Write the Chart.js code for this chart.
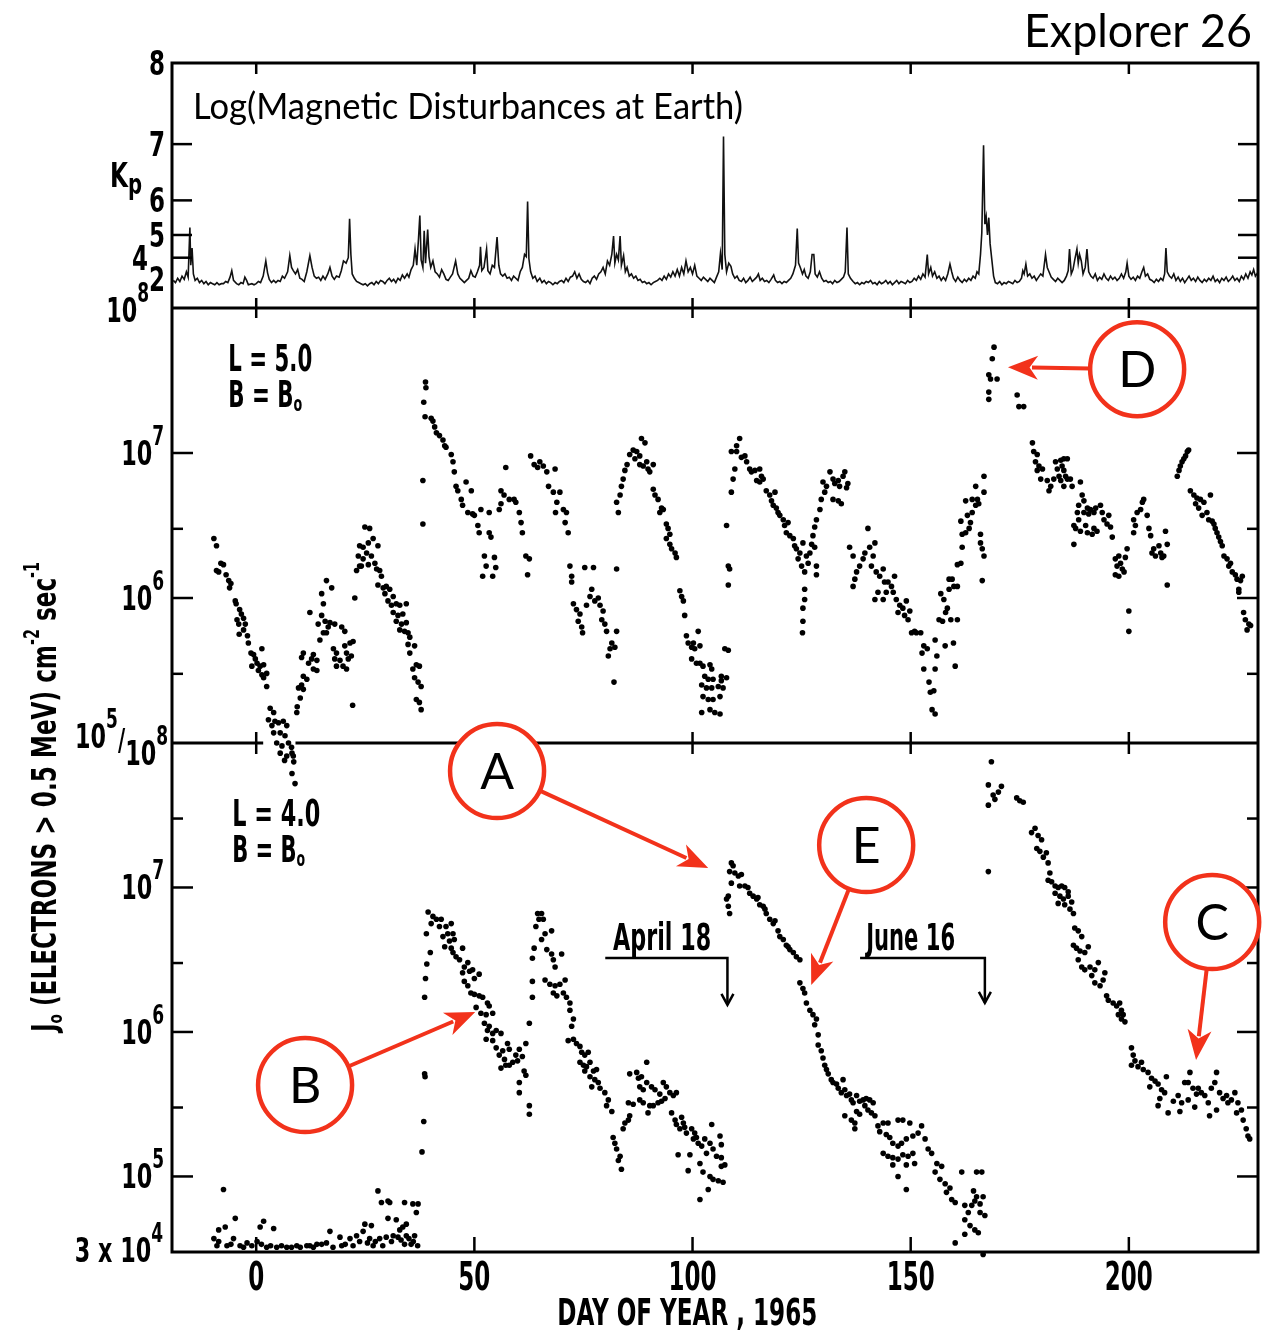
<!DOCTYPE html>
<html>
<head>
<meta charset="utf-8">
<title>Explorer 26</title>
<script src="https://cdn.jsdelivr.net/npm/chart.js@4.4.1/dist/chart.umd.min.js"></script>
<style>
  html, body { margin: 0; padding: 0; background: #fff; }
  #wrap { width: 1270px; height: 1330px; }
</style>
</head>
<body>
<div id="wrap"><canvas id="chart" width="1270" height="1330"></canvas></div>
<script>
// x axis: day of year 1965
const xTickDays = [0, 50, 100, 150, 200];

// top panel: Kp trace, plotted on a linear ap scale, labelled in Kp
const kpTickAp = [207, 132, 80, 48, 27, 7];
const kpTickText = ['8', '7', '6', '5', '4', '2'];
const kpTrace = [
  [-19,6],[-18.5,4],[-18,8],[-17.5,5],[-17,10],[-16.5,7],[-16,14],[-15.6,9],[-15.2,55],[-15,20],[-14.7,36],[-14.4,12],
  [-14,6],[-13.5,8],[-13,4],[-12.5,6],[-12,3],[-11.5,5],[-11,2],[-10.5,4],[-10,3],[-9.5,2],[-9,4],[-8.5,2],[-8,3],
  [-7.5,3],[-7,5],[-6.5,4],[-6,9],[-5.6,15],[-5.2,6],[-4.5,3],[-4,2],[-3.5,4],[-3,3],[-2.6,9],[-2.2,6],[-1.8,2],
  [-1,3],[-0.5,2],[0,3],[0.5,5],[1,4],[1.6,10],[2.2,24],[2.6,13],[3,7],[3.5,4],[4,6],[4.5,4],[5,6],[5.5,5],[6,10],
  [6.5,8],[7.2,14],[7.7,29],[8.1,18],[8.5,15],[9,12],[9.5,16],[10,8],[10.5,7],[11,5],[11.6,14],[12.3,29],[12.8,18],
  [13.3,10],[13.8,8],[14.3,9],[14.8,6],[15.3,10],[15.8,7],[16.4,12],[16.9,18],[17.4,10],[17.9,7],[18.4,10],[19,9],
  [19.5,15],[20,24],[20.6,22],[21.1,27],[21.4,63],[21.7,30],[22,12],[22.5,8],[23,5],[23.5,4],[24,3],[24.5,2],[25,3],
  [25.5,1],[26,3],[26.5,4],[27,2],[27.5,5],[28,3],[28.5,6],[29,5],[29.5,3],[30,6],[30.5,8],[31,5],[31.5,7],[32,4],
  [32.5,8],[33,6],[33.5,11],[34,8],[34.6,12],[35,9],[35.5,16],[36,20],[36.4,35],[36.8,20],[37.2,45],[37.5,66],
  [37.8,25],[38.2,18],[38.5,52],[38.8,22],[39.3,53],[39.6,28],[40,18],[40.5,24],[41,14],[41.5,12],[42,9],[42.5,16],
  [43,12],[43.5,7],[44,6],[44.5,9],[45,12],[45.7,24],[46.2,12],[46.7,8],[47.2,6],[47.7,4],[48.2,6],[48.7,8],[49.2,15],
  [49.7,10],[50.2,9],[50.7,14],[51.2,20],[51.4,37],[51.7,15],[52.2,18],[52.8,35],[53.1,15],[53.6,12],[54.1,20],
  [54.6,18],[55.2,46],[55.6,20],[56,12],[56.5,10],[57,12],[57.5,8],[58,9],[58.5,6],[59,10],[59.5,8],[60,6],[60.5,14],
  [61,18],[61.5,30],[61.9,28],[62.2,79],[62.5,26],[62.9,14],[63.4,8],[63.9,10],[64.4,5],[65,8],[65.5,4],[66,6],
  [66.5,3],[67,5],[67.5,4],[68,2],[68.5,4],[69,3],[69.5,5],[70,6],[70.5,4],[71,8],[71.5,5],[72,9],[72.5,10],[73,14],
  [73.5,8],[74,12],[74.5,7],[75,5],[75.5,4],[76,6],[76.5,3],[77,8],[77.5,10],[78,7],[78.5,12],[79,14],[79.5,18],
  [80,12],[80.5,24],[81,20],[81.5,30],[81.9,47],[82.2,22],[82.6,30],[83,25],[83.4,47],[83.7,20],[84.2,29],[84.6,14],
  [85,18],[85.5,10],[86,12],[86.5,8],[87,10],[87.5,6],[88,7],[88.5,4],[89,5],[89.5,3],[90,4],[90.5,2],[91,4],[91.5,5],
  [92,6],[92.5,8],[93,6],[93.5,10],[94,7],[94.5,12],[95,9],[95.5,14],[96,10],[96.5,16],[97,10],[97.5,18],[98,12],
  [98.5,24],[99,14],[99.5,18],[100,12],[100.5,20],[101,10],[101.5,8],[102,6],[102.5,9],[103,7],[103.5,5],[104,8],
  [104.5,6],[105,4],[105.5,9],[106,14],[106.4,31],[106.8,16],[107.1,139],[107.4,30],[107.8,14],[108.3,22],[108.8,19],
  [109.2,12],[109.7,8],[110.2,10],[110.7,6],[111.2,5],[111.7,8],[112.2,4],[112.7,6],[113.2,9],[113.7,5],[114.2,7],
  [114.7,9],[115.1,12],[115.5,6],[116,8],[116.5,5],[117,6],[117.5,4],[118,7],[118.6,11],[119,6],[119.5,4],[120,5],
  [120.5,3],[121,5],[121.5,4],[122,6],[122.5,8],[123,12],[123.6,20],[124,54],[124.3,22],[124.7,18],[125.2,12],
  [125.6,16],[126,10],[126.5,8],[127,14],[127.4,30],[127.8,30],[128.1,12],[128.6,9],[129.1,14],[129.6,8],[130.1,5],
  [130.6,6],[131.1,4],[131.6,5],[132.1,3],[132.6,6],[133.1,4],[133.6,5],[134.1,7],[134.6,9],[135,14],[135.4,55],
  [135.7,12],[136.2,8],[136.8,5],[137.3,3],[137.8,4],[138.3,2],[138.8,4],[139.3,3],[139.8,5],[140.3,4],[140.8,6],
  [141.3,3],[141.8,4],[142.3,2],[142.8,5],[143.3,3],[143.8,4],[144.3,6],[144.8,3],[145.3,5],[145.8,2],[146.3,4],
  [146.8,6],[147.3,3],[147.8,5],[148.3,4],[148.8,3],[149.3,6],[149.8,4],[150.3,5],[150.8,8],[151.3,6],[151.8,10],
  [152.3,7],[152.8,12],[153.3,9],[153.8,30],[154.1,12],[154.6,18],[155,10],[155.5,14],[156,8],[156.5,10],[157,6],
  [157.5,9],[158,6],[158.5,12],[159,21],[159.4,14],[159.8,8],[160.3,5],[160.8,9],[161.3,6],[161.8,4],[162.3,7],
  [162.8,5],[163.3,8],[163.8,6],[164.3,10],[164.8,8],[165.2,14],[165.6,12],[166,30],[166.3,50],[166.7,131],[167,58],
  [167.3,65],[167.6,48],[167.9,64],[168.2,40],[168.6,25],[169,10],[169.4,4],[169.9,3],[170.4,5],[170.9,2],[171.4,4],
  [171.9,3],[172.4,5],[172.9,4],[173.4,3],[173.9,6],[174.4,4],[174.9,5],[175.4,8],[175.7,15],[176,12],[176.4,21],
  [176.8,10],[177.3,12],[177.8,8],[178.3,10],[178.8,6],[179.3,9],[179.8,12],[180.3,10],[180.9,30],[181.3,18],
  [181.7,14],[182.2,9],[182.7,7],[183.2,5],[183.7,8],[184.2,6],[184.7,4],[185.2,6],[185.7,10],[186.1,15],[186.4,35],
  [186.8,12],[187.2,16],[187.6,25],[188.1,35],[188.4,22],[188.7,30],[189.1,24],[189.5,12],[190,18],[190.4,35],
  [190.8,14],[191.3,10],[191.8,8],[192.3,12],[192.8,6],[193.3,9],[193.8,7],[194.3,12],[194.8,8],[195.3,6],[195.8,10],
  [196.3,7],[196.8,9],[197.3,6],[197.8,8],[198.3,12],[198.8,8],[199.3,14],[199.6,22],[200,10],[200.5,7],[201,9],
  [201.5,6],[202,10],[202.5,8],[203,14],[203.4,18],[203.8,10],[204.3,12],[204.8,7],[205.3,6],[205.8,4],[206.3,7],
  [206.8,5],[207.3,8],[207.8,6],[208.2,12],[208.5,36],[208.8,14],[209.3,10],[209.8,8],[210.3,12],[210.8,6],[211.3,9],
  [211.8,5],[212.3,8],[212.8,4],[213.3,7],[213.8,10],[214.3,6],[214.8,8],[215.3,5],[215.8,9],[216.3,6],[216.8,4],
  [217.3,7],[217.8,5],[218.3,8],[218.8,6],[219.3,10],[219.8,5],[220.3,7],[220.8,4],[221.3,8],[221.8,6],[222.3,9],
  [222.8,5],[223.3,7],[223.8,10],[224.3,6],[224.8,8],[225.3,5],[225.8,10],[226.3,7],[226.8,12],[227.3,8],[227.8,14],
  [228.2,11],[228.6,16],[229,10],[229.5,13]
];

// middle panel, L = 5.0: [day, log10 J]
const l5Flux = [
  [-9.7,6.41],[-9.1,6.36],[-8.1,6.24],[-7.5,6.23],[-9.1,6.19],[-8.6,6.18],[-6.9,6.16],[-6.3,6.12],[-5.8,6.10],[-6.1,6.07],
  [-4.8,5.98],[-4.6,5.96],[-3.8,5.92],[-3.4,5.89],[-2.9,5.86],[-4.4,5.85],[-4.0,5.82],[-2.5,5.82],[-2.9,5.78],[-3.9,5.75],
  [-2.0,5.74],[-1.8,5.69],[-1.2,5.62],[-0.6,5.61],[1.3,5.65],[-0.2,5.58],[0.2,5.55],[-1.0,5.53],[0.9,5.53],[1.7,5.54],
  [0.5,5.50],[1.3,5.47],[2.4,5.48],[1.7,5.45],[2.4,5.39],
  [3.2,5.24],[4.0,5.21],[2.8,5.16],[4.3,5.15],[3.6,5.12],[5.1,5.14],[6.2,5.15],[7.0,5.12],[4.0,5.07],[5.5,5.07],
  [6.6,5.05],[4.7,5.00],[5.9,4.98],[7.4,5.00],[8.1,4.97],[5.5,4.93],[7.0,4.91],[8.5,4.91],[8.2,4.93],[6.5,4.88],
  [8.6,4.87],[8.2,4.79],[8.9,4.72],
  [9.3,5.21],[9.4,5.25],[10.1,5.31],[9.7,5.38],[10.8,5.37],[10.4,5.40],[10.8,5.46],[11.6,5.44],[10.4,5.59],[10.8,5.62],
  [12.0,5.55],[12.7,5.58],[13.1,5.61],[13.9,5.57],[13.1,5.51],[13.9,5.50],[12.3,5.90],[15.0,6.03],[16.1,6.12],[17.3,6.07],
  [15.4,5.96],[15.0,5.88],[14.2,5.82],[15.8,5.84],[16.5,5.80],[14.6,5.71],[15.4,5.76],[16.1,5.76],[16.9,5.83],[18.0,5.82],
  [17.7,5.65],[18.4,5.62],[19.6,5.80],[20.3,5.77],[18.0,5.58],[19.2,5.57],[19.9,5.53],[20.7,5.51],[18.4,5.53],[21.1,5.58],
  [21.8,5.60],[21.5,5.69],[20.3,5.67],[22.2,5.70],[20.7,5.62],[22.1,5.26],[22.6,6.00],
  [24.9,6.49],[26.0,6.48],[23.7,6.36],[24.5,6.35],[25.7,6.38],[26.8,6.41],[27.9,6.36],[23.4,6.29],[24.5,6.27],[25.3,6.31],
  [26.4,6.29],[27.2,6.24],[23.7,6.22],[23.0,6.19],[24.1,6.22],[25.7,6.23],[27.6,6.20],[28.3,6.19],[28.7,6.15],[27.9,6.09],
  [29.1,6.07],[29.8,6.08],[29.5,6.03],[30.6,6.06],[31.4,6.01],[30.2,5.98],[31.0,5.95],[32.1,5.96],[32.9,5.95],[34.4,5.96],
  [31.4,5.90],[32.5,5.88],[33.6,5.89],[32.1,5.84],[33.3,5.82],[34.4,5.83],[32.9,5.78],[34.0,5.77],[34.8,5.76],[35.2,5.73],
  [34.8,5.68],[36.3,5.67],[35.2,5.62],[36.7,5.54],[37.4,5.53],[35.9,5.51],[36.3,5.45],[37.1,5.42],[37.8,5.39],[36.7,5.30],
  [37.4,5.28],[37.8,5.23],
  [38.2,6.81],[38.2,6.51],[38.8,7.49],[38.9,7.45],[38.4,7.35],[38.7,7.25],[40.1,7.24],[40.5,7.22],[40.9,7.18],[41.3,7.14],
  [42.0,7.12],[42.8,7.09],[43.2,7.05],[43.5,7.04],[44.7,6.99],[45.1,6.94],[45.4,6.87],[45.8,6.77],[46.2,6.74],[48.1,6.80],
  [49.3,6.74],[47.0,6.68],[47.3,6.64],[48.5,6.59],[49.6,6.58],[50.0,6.57],[50.8,6.50],[51.1,6.45],[53.4,6.45],[53.8,6.42],
  [51.5,6.61],[53.4,6.59],[52.3,6.29],[52.7,6.22],[54.6,6.28],[54.9,6.21],[51.9,6.15],[54.2,6.15],[55.7,6.61],[56.1,6.65],
  [56.1,6.74],[57.2,6.90],[56.8,6.71],[58.0,6.68],[59.1,6.68],[59.5,6.66],[60.3,6.59],[60.7,6.52],[61.0,6.45],[61.8,6.29],
  [62.6,6.27],[62.2,6.16],[62.9,6.98],[63.7,6.92],[64.5,6.90],[68.6,6.59],
  [65.0,6.94],[65.8,6.91],[66.6,6.87],[68.5,6.89],[67.0,6.77],[68.1,6.73],[69.6,6.73],[68.9,6.66],[70.4,6.61],[71.1,6.59],
  [70.8,6.52],[71.5,6.45],
  [71.9,6.22],[72.3,6.15],[72.3,6.11],[75.3,6.21],[77.3,6.21],[72.7,5.96],[73.4,5.92],[74.2,5.89],[73.8,5.84],[74.6,5.80],
  [74.8,5.76],[75.7,5.95],[76.5,6.01],[76.9,6.06],[77.6,5.98],[78.4,6.00],[78.8,5.95],[79.5,5.91],[79.2,5.85],[79.9,5.82],
  [80.3,5.77],[82.6,6.20],[82.6,5.77],[81.5,5.69],[81.1,5.65],[82.2,5.66],[80.7,5.60],[82.0,5.42],
  [83.0,6.59],[82.6,6.66],[83.4,6.71],[83.7,6.77],[84.1,6.82],[84.5,6.88],[85.0,6.92],[85.6,6.99],[86.4,7.02],[87.2,7.01],
  [86.8,6.96],[87.9,6.98],[88.3,7.10],[89.1,7.07],[87.9,6.92],[88.7,6.91],[89.5,6.94],[89.8,6.89],[90.2,6.87],[91.0,6.92],
  [91.0,6.75],[91.4,6.71],[92.1,6.68],[92.9,6.62],[92.5,6.59],[93.3,6.61],[94.0,6.51],[94.4,6.48],[94.8,6.44],[94.0,6.41],
  [94.8,6.37],[95.2,6.34],[96.0,6.31],[96.3,6.28],
  [97.1,6.05],[97.5,6.01],[97.9,5.98],[98.2,5.88],[98.6,5.74],[99.0,5.69],[100.2,5.69],[101.3,5.77],[101.7,5.67],[99.8,5.66],
  [100.5,5.65],[99.8,5.58],[100.9,5.55],[101.7,5.55],[102.4,5.53],[104.0,5.54],[104.4,5.51],[102.8,5.46],[103.6,5.44],
  [104.7,5.44],[102.1,5.40],[103.2,5.38],[104.4,5.38],[105.9,5.39],[106.6,5.43],[107.0,5.38],[102.4,5.32],[103.6,5.30],
  [104.7,5.30],[106.3,5.32],[102.1,5.21],[104.0,5.23],[105.1,5.21],[106.3,5.20],[107.4,5.65],[108.2,5.64],[107.8,5.45],
  [106.6,5.46],
  [107.8,6.50],[108.2,6.22],[108.5,6.20],[108.2,6.09],[108.9,6.73],[109.3,6.82],[109.7,6.89],[108.9,7.01],[110.1,7.05],
  [110.8,7.10],[110.1,7.01],[111.2,6.97],[112.0,6.98],[112.4,6.94],[113.1,6.89],[113.5,6.87],[114.3,6.88],[115.4,6.89],
  [115.8,6.84],[114.7,6.81],[115.4,6.80],[116.2,6.82],[116.9,6.74],[117.7,6.71],[118.1,6.67],[118.9,6.73],[118.5,6.64],
  [119.2,6.62],[119.6,6.59],[120.0,6.57],[120.8,6.54],[121.1,6.50],[121.9,6.52],[121.5,6.45],[122.3,6.43],[123.1,6.41],
  [123.4,6.36],[123.8,6.34],[124.6,6.31],[125.3,6.38],[124.2,6.27],[125.0,6.22],[125.7,6.18],[126.1,6.29],[126.5,6.24],
  [125.7,6.06],[125.7,5.99],[125.3,5.93],[125.3,5.84],[125.2,5.76],
  [126.9,6.31],[127.3,6.37],[128.0,6.35],[128.4,6.22],[128.4,6.16],[127.6,6.43],[128.0,6.49],[128.4,6.54],[129.2,6.61],
  [129.5,6.68],[130.3,6.73],[129.9,6.80],[130.7,6.77],[131.5,6.87],[132.2,6.82],[132.6,6.79],[133.4,6.81],[133.7,6.77],
  [134.5,6.84],[134.9,6.87],[135.3,6.76],[135.6,6.79],[132.2,6.68],[133.4,6.67],[134.1,6.65],
  [136.0,6.35],[136.8,6.29],[137.2,6.13],[136.8,6.08],[137.6,6.18],[138.3,6.22],[139.1,6.27],[139.5,6.31],[140.2,6.48],
  [140.6,6.35],[141.8,6.38],[141.4,6.29],[141.0,6.22],[142.1,6.18],[142.9,6.15],[143.7,6.20],[144.0,6.11],[144.4,6.04],
  [142.5,6.04],[141.8,5.99],[143.7,5.99],[144.8,6.11],[145.6,6.08],[146.0,6.04],[146.3,6.15],[146.7,5.99],[147.5,5.95],
  [147.1,5.90],[148.2,5.93],[149.0,5.98],[148.6,5.88],[149.4,5.85],[149.8,5.91],[150.2,5.76],[150.9,5.77],[151.3,5.76],
  [152.3,5.76],[153.0,5.67],[153.8,5.65],[152.6,5.62],[155.6,5.71],[156.0,5.60],[157.9,5.67],[159.8,5.69],[160.2,5.53],
  [153.0,5.51],[154.2,5.42],[155.6,5.51],[155.3,5.36],[154.9,5.23],[155.6,5.20],[154.5,5.35],
  [156.5,5.85],[157.3,5.84],[158.0,5.90],[159.2,5.85],[160.7,5.85],[156.9,6.03],[157.6,5.99],[158.4,5.93],[158.8,6.06],
  [159.5,6.13],[159.9,6.08],[160.7,6.08],[158.8,6.13],[160.7,6.23],[161.5,6.24],[161.8,6.35],[161.8,6.44],[162.6,6.45],
  [163.4,6.48],[163.7,6.52],[161.5,6.53],[163.0,6.57],[164.1,6.59],[164.9,6.64],[165.3,6.68],[165.6,6.65],[162.6,6.67],
  [164.1,6.68],[164.9,6.77],[166.8,6.84],[166.8,6.73],[166.0,6.44],[166.0,6.38],[166.4,6.34],[166.8,6.29],[166.4,6.12],
  [169.1,7.73],[168.7,7.65],[167.9,7.54],[168.3,7.51],[169.8,7.51],[167.9,7.42],[167.9,7.37],[174.4,7.40],[174.8,7.32],
  [175.9,7.32],
  [177.9,7.07],[178.2,7.01],[179.0,6.99],[178.6,6.94],[179.4,6.91],[179.0,6.88],[180.2,6.89],[179.8,6.82],[181.3,6.81],
  [181.7,6.74],[182.1,6.77],[182.8,6.82],[183.2,6.94],[183.6,6.89],[184.4,6.95],[185.1,6.96],[185.9,6.96],[184.7,6.91],
  [185.1,6.88],[185.5,6.84],[185.9,6.82],[184.0,6.84],[184.4,6.81],[185.1,6.77],[187.0,6.77],[186.6,6.82],[188.9,6.80],
  [189.3,6.71],[189.7,6.67],[188.5,6.64],[188.2,6.59],[189.7,6.59],[190.5,6.62],[190.8,6.58],[191.2,6.61],[192.0,6.59],
  [192.4,6.62],[193.5,6.64],[193.9,6.59],[194.3,6.54],[195.0,6.51],[195.8,6.49],[195.4,6.57],[188.5,6.54],[187.4,6.50],
  [187.8,6.48],[188.9,6.46],[190.1,6.50],[190.5,6.45],[192.0,6.48],[191.6,6.44],[192.7,6.46],[187.4,6.37],[196.2,6.42],
  [196.9,6.27],[197.3,6.22],[197.7,6.29],[198.1,6.24],[198.5,6.20],[198.9,6.18],[196.9,6.16],[197.7,6.15],[199.2,6.28],
  [199.6,6.34],[200.0,5.91],[200.0,5.77],[201.1,6.45],[201.5,6.50],[201.1,6.54],[201.9,6.59],[202.7,6.61],[203.1,6.66],
  [203.4,6.68],[204.2,6.57],[204.6,6.48],[205.0,6.43],[205.7,6.34],[205.3,6.31],[206.1,6.29],[206.9,6.36],[207.3,6.31],
  [207.6,6.28],[208.0,6.29],[208.4,6.46],[208.8,6.37],[208.8,6.09],
  [211.1,6.84],[211.8,6.91],[212.6,6.96],[213.4,7.01],[213.7,7.02],[211.5,6.88],[212.2,6.94],[213.0,6.98],
  [214.1,6.74],[214.9,6.71],[215.6,6.69],[216.4,6.68],[217.2,6.66],[215.3,6.65],[216.0,6.62],[216.8,6.57],[217.9,6.59],
  [218.7,6.71],[218.3,6.54],[219.1,6.53],[219.5,6.51],[219.8,6.48],[220.2,6.45],[220.6,6.42],[221.0,6.39],[221.4,6.36],
  [221.8,6.29],[222.5,6.27],[222.9,6.22],[223.3,6.24],[223.7,6.18],[224.4,6.16],[224.8,6.13],[225.6,6.12],[225.2,6.06],
  [226.0,6.15],[225.2,6.04],[226.3,5.90],[226.7,5.85],[227.5,5.82],[227.1,5.78],[227.9,5.81]
];

// bottom panel, L = 4.0: [day, log10 J]
const l4Flux = [
  [-7.5,4.91],[-8.6,4.63],[-7.1,4.65],[-4.8,4.71],[-9.7,4.57],[-8.6,4.55],[-5.2,4.57],[-6.7,4.52],[-3.7,4.52],[-2.1,4.54],
  [0.2,4.55],[0.9,4.65],[1.7,4.69],[4.0,4.64],[2.4,4.51],[7.0,4.51],[9.3,4.52],[11.6,4.52],[13.9,4.53],[16.1,4.54],
  [16.9,4.62],[19.2,4.58],[21.5,4.57],[23.0,4.59],[23.7,4.55],[24.5,4.62],[24.9,4.67],[26.4,4.66],[27.9,4.90],[28.7,4.82],
  [30.2,4.83],[30.6,4.82],[28.3,4.57],[29.8,4.58],[31.4,4.59],[32.5,4.58],[34.0,4.82],[35.9,4.81],[37.1,4.81],[36.7,4.75],
  [30.2,4.71],[32.1,4.70],[34.4,4.67],[33.6,4.65],[34.4,4.59],[36.3,4.59],[35.5,4.53],[34.0,4.53],[26.8,4.52],[19.6,4.52],
  [13.1,4.51],[10.1,4.51],[4.7,4.51],[-2.9,4.51],[26.0,4.57],[32.9,4.63],[-9.0,4.52],[-5.8,4.53],[-1.0,4.52],[1.2,4.53],
  [3.3,4.52],[5.8,4.52],[8.1,4.51],[12.3,4.52],[15.0,4.53],[17.6,4.51],[20.4,4.53],[22.2,4.52],[25.5,4.54],[27.3,4.55],
  [29.0,4.52],[31.0,4.55],[33.2,4.56],[35.0,4.57],[36.0,4.55],[37.0,4.52],
  [38.0,5.17],[38.4,5.38],[38.6,5.71],[38.7,5.69],[38.6,6.24],[38.8,6.37],[39.1,6.47],[39.9,6.55],[39.0,6.68],[39.4,6.83],
  [40.1,6.75],[40.5,6.80],[41.3,6.78],[42.0,6.73],[42.4,6.78],[43.5,6.73],[44.7,6.75],[45.1,6.68],[42.8,6.66],[43.2,6.59],
  [44.3,6.63],[43.9,6.68],[45.4,6.64],[44.7,6.58],[45.1,6.55],[45.8,6.52],[46.6,6.50],[47.3,6.58],[47.3,6.41],[47.7,6.45],
  [48.5,6.48],[48.9,6.42],[49.6,6.43],[50.0,6.37],[51.1,6.40],[47.7,6.35],[48.5,6.32],[49.2,6.27],[50.0,6.26],[51.1,6.25],
  [51.9,6.24],[53.0,6.20],[53.4,6.18],[50.4,6.17],[51.5,6.13],[52.7,6.12],[54.2,6.13],[52.3,6.06],[53.4,6.04],[53.0,6.01],
  [54.2,5.99],[55.0,6.01],[56.1,5.99],[52.7,5.95],[54.2,5.94],[55.0,5.89],[55.7,5.84],[56.5,5.87],[57.6,5.92],[58.0,5.88],
  [56.9,5.81],[57.2,5.77],[56.1,5.75],[58.0,5.77],[58.8,5.79],[59.9,5.80],[59.5,5.84],[60.3,5.88],[61.0,5.83],[61.8,5.92],
  [61.4,5.73],[61.8,5.70],[60.3,5.65],[60.3,5.58],[62.6,5.49],[62.6,5.43],
  [64.5,6.82],[64.8,6.78],[64.1,6.73],[63.7,6.58],[63.3,6.51],[63.3,6.35],[63.3,6.24],[62.6,6.06],
  [65.4,6.82],[65.8,6.78],[66.2,6.68],[67.7,6.70],[65.4,6.64],[66.6,6.57],[67.7,6.54],[68.1,6.50],[70.0,6.54],[68.5,6.45],
  [66.2,6.36],[67.3,6.33],[68.5,6.32],[69.6,6.33],[68.1,6.27],[68.9,6.25],[70.4,6.27],[71.1,6.24],[71.9,6.20],[70.8,6.36],
  [71.9,6.15],[72.7,6.09],[72.3,6.04],[71.5,5.94],[72.7,5.95],[73.4,5.92],[74.2,5.90],[74.6,5.86],[75.3,5.84],[76.1,5.86],
  [74.2,5.79],[75.0,5.77],[75.7,5.76],[76.5,5.79],[75.3,5.73],[77.3,5.73],[78.0,5.74],[76.5,5.69],[77.6,5.67],[76.9,5.62],
  [78.4,5.65],[78.8,5.61],[79.9,5.58],[80.7,5.53],[80.3,5.49],[81.5,5.45],
  [81.8,5.27],[82.2,5.23],[82.6,5.19],[83.4,5.14],[83.7,5.05],[83.0,5.11],[84.1,5.33],[84.5,5.37],[85.3,5.39],[85.6,5.42],
  [85.3,5.51],[86.4,5.50],[85.6,5.71],[87.2,5.72],[87.6,5.68],[88.3,5.69],[89.5,5.79],[87.9,5.62],[88.7,5.60],[89.5,5.65],
  [90.6,5.62],[91.4,5.60],[87.9,5.53],[88.7,5.51],[90.2,5.49],[89.8,5.44],[91.0,5.49],[92.1,5.51],[92.9,5.52],[93.7,5.54],
  [94.0,5.62],[94.8,5.58],[95.6,5.56],[96.3,5.58],[92.5,5.57],[93.3,5.65],
  [95.2,5.44],[96.0,5.39],[96.3,5.36],[97.5,5.41],[97.9,5.37],[97.1,5.33],[98.2,5.34],[98.6,5.30],[99.8,5.33],[100.5,5.30],
  [100.9,5.27],[100.2,5.26],[101.3,5.23],[102.1,5.21],[102.8,5.26],[104.0,5.23],[104.4,5.36],[106.3,5.28],[106.6,5.22],
  [104.7,5.19],[103.2,5.16],[105.5,5.14],[106.6,5.13],[96.7,5.15],[99.4,5.15],[101.7,5.09],[102.4,5.03],[104.0,5.00],
  [104.7,4.98],[105.9,4.97],[107.0,4.96],[106.6,5.07],[107.4,5.08],[103.6,4.91],[101.7,4.84],[99.0,5.04],
  [107.8,6.92],[108.2,6.87],[108.5,6.82],[108.2,6.94],[108.9,7.03],[108.5,7.11],[108.9,7.17],[109.3,7.15],[109.7,7.10],
  [110.5,7.08],[111.2,7.09],[110.8,7.01],[112.0,7.01],[112.7,7.00],[113.1,6.96],[113.9,6.94],[114.7,6.92],[115.0,6.93],
  [115.4,6.88],[116.2,6.87],[116.6,6.85],[116.9,6.82],[117.7,6.78],[118.5,6.75],[118.9,6.77],[119.6,6.70],[120.0,6.66],
  [120.8,6.64],[121.5,6.60],[121.9,6.59],[122.3,6.57],[123.1,6.55],[123.8,6.52],[124.6,6.50],
  [124.6,6.34],[125.3,6.30],[125.7,6.27],[126.1,6.20],[126.9,6.15],[127.6,6.12],[128.4,6.09],[128.0,6.05],[128.8,5.98],
  [128.8,5.91],[129.5,5.87],[129.9,5.82],[130.3,5.77],[130.7,5.74],[131.1,5.71],[131.8,5.67],[132.2,5.65],[133.0,5.64],
  [133.4,5.61],[134.5,5.67],[134.9,5.60],[134.1,5.58],[135.3,5.56],[136.0,5.57],[136.4,5.53],[136.8,5.51],[137.6,5.56],
  [138.3,5.52],[139.1,5.53],[139.8,5.54],[140.6,5.53],[141.4,5.51],[139.5,5.49],[140.2,5.46],[141.0,5.44],[141.8,5.42],
  [137.6,5.45],[138.3,5.43],[134.9,5.42],[136.4,5.39],[137.2,5.37],[137.2,5.33],[142.5,5.35],[143.7,5.37],[144.8,5.37],
  [147.1,5.39],[148.2,5.39],[149.8,5.37],[142.9,5.31],[144.4,5.29],[145.2,5.27],[145.9,5.23],[147.1,5.21],[147.9,5.23],
  [149.0,5.26],[150.5,5.28],[151.7,5.30],[143.7,5.16],[144.8,5.14],[145.9,5.13],[147.1,5.12],[148.2,5.15],[149.4,5.14],
  [150.5,5.16],[145.9,5.08],[149.0,5.08],[150.9,5.09],[147.1,5.00],[149.0,4.91],
  [152.5,5.35],[153.3,5.26],[154.0,5.19],[154.8,5.16],[156.0,5.09],[157.1,5.07],[155.6,5.03],[156.7,4.98],[157.9,4.95],
  [159.0,4.92],[158.2,4.89],[159.4,4.84],[160.2,4.82],[161.7,5.03],[162.4,4.80],[163.2,4.75],[163.6,4.66],[165.1,5.03],
  [166.3,5.03],[164.7,4.83],[165.9,4.81],[164.0,4.80],[165.9,4.75],[167.0,4.73],[162.4,4.70],[164.7,4.63],[165.5,4.61],
  [162.4,4.60],[160.2,4.54],[166.6,4.46],[166.6,4.86],[164.4,4.90],[165.1,4.86],
  [168.5,7.87],[167.8,7.71],[170.8,7.70],[170.1,7.66],[168.9,7.64],[167.8,7.57],[169.3,7.61],[174.3,7.62],[175.0,7.60],
  [175.8,7.59],[167.8,7.11],
  [177.7,7.38],[178.5,7.41],[179.2,7.36],[180.0,7.33],[178.9,7.27],[179.6,7.25],[180.4,7.21],[181.1,7.24],[181.5,7.17],
  [181.9,7.10],[181.5,7.05],[182.3,7.04],[183.1,7.01],[183.8,7.00],[184.6,7.01],[185.3,7.00],[186.1,6.97],[183.1,6.96],
  [184.2,6.94],[185.0,6.92],[186.1,6.94],[186.9,6.90],[183.8,6.89],[185.3,6.88],[186.5,6.85],[187.3,6.82],[187.6,6.72],
  [188.4,6.70],[189.2,6.66],[187.3,6.60],[188.0,6.58],[188.8,6.56],[189.9,6.55],[190.7,6.59],[188.4,6.50],[189.2,6.45],
  [189.9,6.43],[191.1,6.45],[192.2,6.43],[193.0,6.48],[191.5,6.39],[192.2,6.34],[193.4,6.32],[194.1,6.36],[194.5,6.41],
  [194.9,6.25],[195.3,6.22],[196.4,6.20],[197.2,6.18],[197.9,6.20],[198.3,6.15],[198.7,6.12],[199.1,6.07],[197.6,6.12],
  [198.3,6.09],
  [200.6,5.89],[201.0,5.84],[201.4,5.80],[200.6,5.77],[202.1,5.76],[202.9,5.79],[203.3,5.74],[204.4,5.72],[205.2,5.68],
  [206.0,5.66],[206.7,5.64],[207.5,5.60],[208.2,5.58],[207.1,5.54],[209.0,5.44],[208.6,5.69],[204.8,5.62],[206.7,5.49],
  [211.3,5.56],[212.1,5.51],[211.7,5.45],[212.8,5.65],[213.6,5.65],[214.0,5.72],[214.7,5.61],[215.5,5.57],[215.9,5.61],
  [216.6,5.58],[217.4,5.56],[218.2,5.51],[218.5,5.42],[218.9,5.61],[219.7,5.65],[220.1,5.72],[220.8,5.58],[221.6,5.54],
  [222.4,5.56],[222.7,5.51],[223.5,5.53],[224.3,5.58],[225.0,5.51],[224.7,5.44],[225.8,5.46],[226.2,5.39],[226.9,5.33],
  [227.3,5.28],[227.7,5.26],[215.1,5.48],[220.1,5.46],[213.6,5.53],[210.2,5.52]
];

// flux axis ticks
const l5MajorTicks = [1e7, 1e6];
const l5MinorTicks = [3e6, 3e5];
const l4MajorTicks = [1e7, 1e6, 1e5];
const l4MinorTicks = [3e7, 3e6, 3e5];

// gap in the L=5 / L=4 separator where the L=5 dots cross it (days)
const separatorGap = [1.6, 9.0];

// red callouts: circle centre and arrow tip, in [day, log10 J] on a panel axis
const callouts = [
  { letter: 'A', axis: 'yL4', at: [55.2, 7.806], tip: [103.6, 7.135] },
  { letter: 'B', axis: 'yL4', at: [11.2, 5.633], tip: [50.2, 6.138] },
  { letter: 'C', axis: 'yL4', at: [219.1, 6.761], tip: [215.4, 5.806] },
  { letter: 'D', axis: 'yL5', at: [201.9, 7.578], tip: [172.3, 7.592] },
  { letter: 'E', axis: 'yL4', at: [139.8, 7.294], tip: [127.2, 6.325] }
];

const COND = '"DejaVu Sans Condensed", "DejaVu Sans", sans-serif';
const HUM = 'Lato, "Open Sans", "Noto Sans", sans-serif';
const RED = '#f2321b';

// draw a run of text pieces [text, size, dy] on one baseline
function rich(ctx, x, y, parts, o = {}) {
  const fam = o.family || COND, wt = o.weight || 'bold';
  const fnt = s => wt + ' ' + s + 'px ' + fam;
  let w = 0;
  for (const p of parts) { ctx.font = fnt(p[1]); w += ctx.measureText(p[0]).width; }
  let sx = o.sx || 1;
  if (o.width) sx = o.width / w;
  if (o.digit) { ctx.font = fnt(parts[0][1]); sx = o.digit / ctx.measureText('0').width; }
  ctx.save();
  ctx.translate(x, y);
  if (o.rotate) ctx.rotate(o.rotate);
  ctx.scale(sx, 1);
  ctx.fillStyle = o.color || '#000';
  ctx.textAlign = 'left';
  ctx.textBaseline = 'alphabetic';
  let cx = o.align === 'right' ? -w : o.align === 'center' ? -w / 2 : 0;
  for (const p of parts) {
    ctx.font = fnt(p[1]);
    ctx.fillText(p[0], cx, p[2] || 0);
    cx += ctx.measureText(p[0]).width;
  }
  ctx.restore();
}

function seg(ctx, x1, y1, x2, y2) {
  ctx.beginPath(); ctx.moveTo(x1, y1); ctx.lineTo(x2, y2); ctx.stroke();
}

function arrow(ctx, x1, y1, x2, y2, head, half) {
  const L = Math.hypot(x2 - x1, y2 - y1), ux = (x2 - x1) / L, uy = (y2 - y1) / L;
  const bx = x2 - ux * head, by = y2 - uy * head;
  seg(ctx, x1, y1, bx + ux * 6, by + uy * 6);
  ctx.beginPath();
  ctx.moveTo(x2, y2);
  ctx.lineTo(bx - uy * half, by + ux * half);
  ctx.lineTo(x2 - ux * head * 0.72, y2 - uy * head * 0.72);
  ctx.lineTo(bx + uy * half, by - ux * half);
  ctx.closePath();
  ctx.fill();
}

const figure = {
  id: 'figure',
  afterDatasetsDraw(chart) {
    const { ctx, chartArea: a } = chart;
    const { x, yKp, yL5, yL4 } = chart.scales;
    const P = (axis, d, lg) => [x.getPixelForValue(d), chart.scales[axis].getPixelForValue(Math.pow(10, lg))];

    ctx.save();
    ctx.strokeStyle = '#000';
    ctx.fillStyle = '#000';
    ctx.lineCap = 'butt';

    // frame and panel separators
    ctx.lineWidth = 3;
    ctx.strokeRect(a.left, a.top, a.right - a.left, a.bottom - a.top);
    seg(ctx, a.left, yKp.bottom, a.right, yKp.bottom);
    seg(ctx, a.left, yL5.bottom, x.getPixelForValue(separatorGap[0]), yL5.bottom);
    seg(ctx, x.getPixelForValue(separatorGap[1]), yL5.bottom, a.right, yL5.bottom);

    // day ticks on every panel edge
    ctx.lineWidth = 2.5;
    for (const d of xTickDays) {
      const px = x.getPixelForValue(d);
      seg(ctx, px, a.top, px, a.top + 11);
      seg(ctx, px, yKp.bottom - 10, px, yKp.bottom + 10);
      seg(ctx, px, yL5.bottom - 11, px, yL5.bottom + 11);
      seg(ctx, px, a.bottom - 15, px, a.bottom);
    }
    // value ticks, both sides
    const yTicks = (scale, vals, len) => {
      for (const v of vals) {
        const py = scale.getPixelForValue(v);
        seg(ctx, a.left, py, a.left + len, py);
        seg(ctx, a.right - len, py, a.right, py);
      }
    };
    yTicks(yKp, kpTickAp.slice(1, 5), 20);
    yTicks(yL5, l5MajorTicks, 21);
    yTicks(yL5, l5MinorTicks, 11);
    yTicks(yL4, l4MajorTicks, 21);
    yTicks(yL4, l4MinorTicks, 11);

    // Kp labels
    kpTickAp.forEach((v, i) => {
      const py = yKp.getPixelForValue(v);
      const lx = kpTickText[i] === '4' ? a.left - 32 : a.left - 15;
      rich(ctx, lx, py + 12, [[kpTickText[i], 33]], { align: 'center', digit: 16 });
    });
    rich(ctx, 110, 187, [['K', 33], ['p', 28, 7]], { sx: 0.78 });

    // flux labels
    const flux = (xr, yb, exp) => rich(ctx, xr, yb, [['10', 34], [exp, 26, -20]], { align: 'right', digit: 15.5 });
    for (const v of l5MajorTicks) flux(a.left - 8, yL5.getPixelForValue(v) + 12, String(Math.round(Math.log10(v))));
    for (const v of l4MajorTicks) flux(a.left - 8, yL4.getPixelForValue(v) + 12, String(Math.round(Math.log10(v))));
    flux(a.left - 23, yL5.top + 14, '8');
    rich(ctx, a.left - 4, yL5.bottom + 5,
      [['10', 34], ['5', 26, -20], ['/', 30, 2], ['10', 34, 17], ['8', 26, -3]],
      { align: 'right', digit: 15.5 });
    rich(ctx, a.left - 9, yL4.bottom + 10, [['3 x 10', 34], ['4', 26, -20]], { align: 'right', digit: 15.5 });

    // day labels and axis titles
    for (const d of xTickDays) {
      rich(ctx, x.getPixelForValue(d), a.bottom + 38, [[String(d), 39]], { align: 'center', digit: 16 });
    }
    rich(ctx, x.getPixelForValue(98.8), a.bottom + 73, [['DAY OF YEAR , 1965', 38]], { align: 'center', width: 260 });
    rich(ctx, 56, 797,
      [['J', 34], ['o', 20, 6], [' (ELECTRONS > 0.5 MeV) cm', 34], ['-2', 21, -17], [' sec', 34], ['-1', 21, -17]],
      { align: 'center', rotate: -Math.PI / 2, width: 470 });

    // panel texts
    let p = P('yL5', -6.4, 7.565);
    rich(ctx, p[0], p[1], [['L = 5.0', 37]], { width: 84 });
    p = P('yL5', -6.4, 7.316);
    rich(ctx, p[0], p[1], [['B = B', 37], ['o', 22, 4]], { width: 74 });
    p = P('yL4', -5.5, 7.426);
    rich(ctx, p[0], p[1], [['L = 4.0', 37]], { width: 88 });
    p = P('yL4', -5.5, 7.176);
    rich(ctx, p[0], p[1], [['B = B', 37], ['o', 22, 4]], { width: 73 });

    // April 18 / June 16 markers
    const bracket = (label, textDay, w, fromDay, toDay, tipLog) => {
      const t = P('yL4', textDay, 6.567);
      rich(ctx, t[0], t[1], [[label, 37]], { width: w });
      const s = P('yL4', fromDay, 6.512), c = P('yL4', toDay, 6.512), e = P('yL4', toDay, tipLog);
      ctx.lineWidth = 2.5;
      ctx.beginPath(); ctx.moveTo(s[0], s[1]); ctx.lineTo(c[0], c[1]); ctx.lineTo(e[0], e[1]); ctx.stroke();
      ctx.beginPath(); ctx.moveTo(e[0] - 6, e[1] - 11); ctx.lineTo(e[0], e[1]); ctx.lineTo(e[0] + 6, e[1] - 11); ctx.stroke();
    };
    bracket('April 18', 81.8, 98, 80.0, 108.0, 6.187);
    bracket('June 16', 139.8, 89, 138.4, 167.0, 6.201);

    // red callouts
    const R = 47;
    for (const c of callouts) {
      const [cx, cy] = P(c.axis, c.at[0], c.at[1]);
      const [tx, ty] = P(c.axis, c.tip[0], c.tip[1]);
      const L = Math.hypot(tx - cx, ty - cy);
      ctx.strokeStyle = RED; ctx.fillStyle = RED; ctx.lineWidth = 4;
      arrow(ctx, cx + (tx - cx) / L * R, cy + (ty - cy) / L * R, tx, ty, 30, 12);
      ctx.beginPath(); ctx.arc(cx, cy, R, 0, Math.PI * 2);
      ctx.fillStyle = '#fff'; ctx.fill();
      ctx.lineWidth = 4.5; ctx.stroke();
      rich(ctx, cx, cy + 18, [[c.letter, 50]], { align: 'center', family: HUM, weight: 'normal' });
    }

    // titles
    rich(ctx, a.right - 6, 47, [['Explorer 26', 46]], { align: 'right', width: 228, family: HUM, weight: 'normal' });
    rich(ctx, a.left + 21, 119, [['Log(Magnetic Disturbances at Earth)', 37]], { width: 550, family: HUM, weight: 'normal' });
    ctx.restore();
  }
};

const hidden = { grid: { display: false }, border: { display: false }, ticks: { display: false } };

new Chart(document.getElementById('chart'), {
  type: 'scatter',
  data: {
    datasets: [
      {
        label: 'Kp', data: kpTrace.map(p => ({ x: p[0], y: p[1] })), yAxisID: 'yKp',
        showLine: true, borderColor: '#111', borderWidth: 1.6, pointRadius: 0, tension: 0
      },
      {
        label: 'L = 5.0', data: l5Flux.map(p => ({ x: p[0], y: Math.pow(10, p[1]) })), yAxisID: 'yL5',
        pointRadius: 2.8, pointBackgroundColor: '#000', pointBorderWidth: 0, clip: false
      },
      {
        label: 'L = 4.0', data: l4Flux.map(p => ({ x: p[0], y: Math.pow(10, p[1]) })), yAxisID: 'yL4',
        pointRadius: 2.8, pointBackgroundColor: '#000', pointBorderWidth: 0, clip: false
      }
    ]
  },
  options: {
    responsive: false,
    animation: false,
    devicePixelRatio: 1,
    events: [],
    layout: { padding: { top: 63, right: 12, bottom: 0, left: 0 } },
    plugins: { legend: { display: false }, tooltip: { enabled: false } },
    scales: {
      x: { type: 'linear', min: -19.3, max: 229.6, ...hidden, afterFit(s) { s.height = 78; } },
      yKp: { type: 'linear', position: 'left', stack: 'panels', stackWeight: 245, weight: 3,
        min: -19.5, max: 207, ...hidden, afterFit(s) { s.width = 172; } },
      yL5: { type: 'logarithmic', position: 'left', stack: 'panels', stackWeight: 435, weight: 2,
        min: 1e5, max: 1e8, ...hidden, afterFit(s) { s.width = 172; } },
      yL4: { type: 'logarithmic', position: 'left', stack: 'panels', stackWeight: 509, weight: 1,
        min: 3e4, max: 1e8, ...hidden, afterFit(s) { s.width = 172; } }
    }
  },
  plugins: [figure]
});
</script>
</body>
</html>
